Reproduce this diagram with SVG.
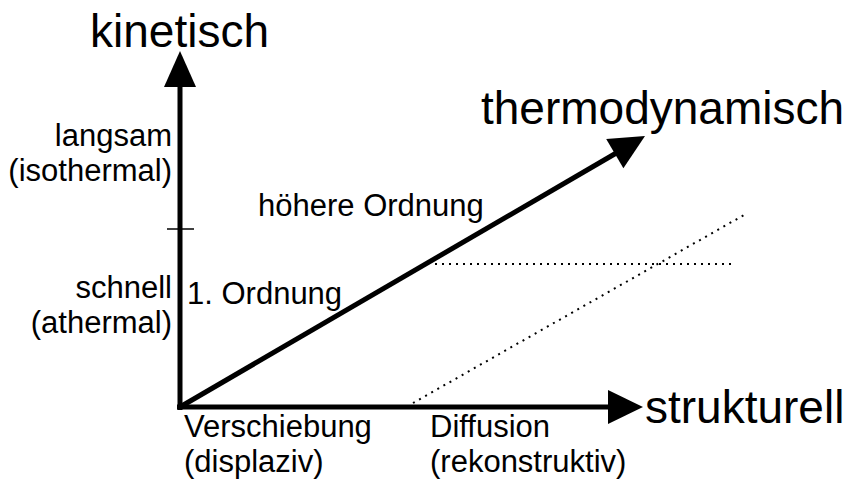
<svg xmlns="http://www.w3.org/2000/svg" width="848" height="479" viewBox="0 0 848 479">
<style>
.big{font-family:"Liberation Sans",Arial,sans-serif;font-size:46px;fill:#000}
.lbl{font-family:"Liberation Sans",Arial,sans-serif;font-size:31px;fill:#000}
.axis{stroke:#000;stroke-width:5;fill:none}
.dot{stroke:#000;stroke-width:2;stroke-dasharray:2 5;fill:none}
</style>
<rect width="848" height="479" fill="#fff"/>
<g id="connectors">
<line class="axis" x1="180" y1="410" x2="180" y2="80"/>
<polygon points="180,51 164,87 196,87" fill="#000"/>
<line class="axis" x1="177" y1="407" x2="612" y2="407"/>
<polygon points="643,407 608,390 608,424" fill="#000"/>
<line class="axis" x1="180" y1="407" x2="618" y2="152"/>
<polygon points="645,136 606.2,138.9 623.4,168.3" fill="#000"/>
<line x1="167" y1="229" x2="194" y2="229" stroke="#000" stroke-width="1.5"/>
<line class="dot" x1="435" y1="264" x2="733" y2="264"/>
<line class="dot" x1="413" y1="403" x2="744" y2="215"/>
</g>
<g id="kinetisch"><text class="big" x="90" y="47">kinetisch</text></g>
<g id="thermodynamisch"><text class="big" x="481" y="124">thermodynamisch</text></g>
<g id="strukturell"><text class="big" x="645" y="423">strukturell</text></g>
<g id="langsam"><text class="lbl" text-anchor="end" x="172" y="146">langsam</text><text class="lbl" text-anchor="end" x="172" y="181">(isothermal)</text></g>
<g id="schnell"><text class="lbl" text-anchor="end" x="172" y="298">schnell</text><text class="lbl" text-anchor="end" x="172" y="333">(athermal)</text></g>
<g id="ordnung1"><text class="lbl" x="187" y="304">1. Ordnung</text></g>
<g id="hoehere"><text class="lbl" x="258" y="216">höhere Ordnung</text></g>
<g id="verschiebung"><text class="lbl" x="184" y="437">Verschiebung</text><text class="lbl" x="184" y="472">(displaziv)</text></g>
<g id="diffusion"><text class="lbl" x="430" y="437">Diffusion</text><text class="lbl" x="430" y="472">(rekonstruktiv)</text></g>
</svg>
